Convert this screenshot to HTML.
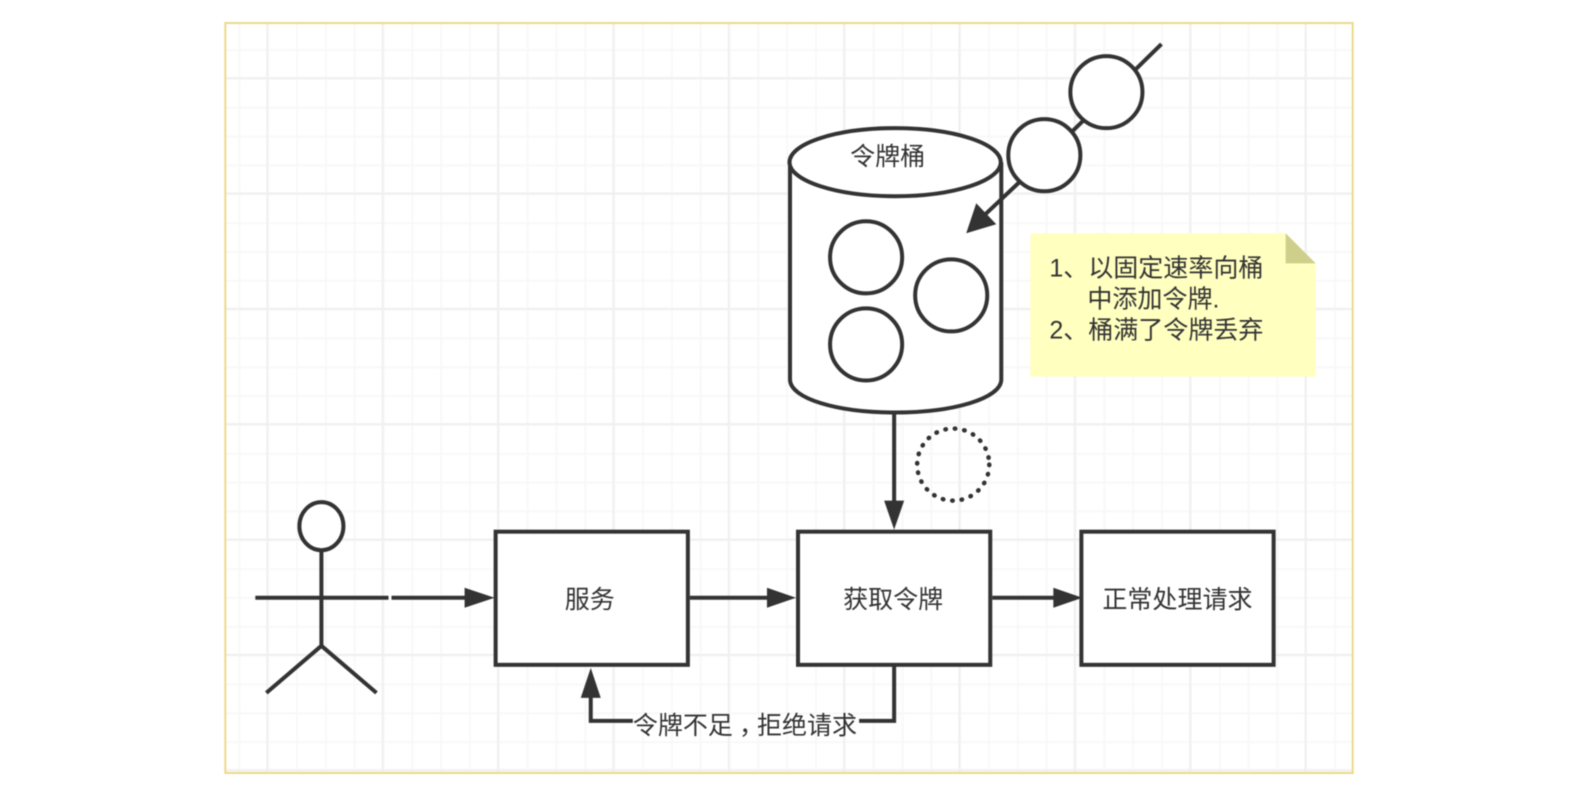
<!DOCTYPE html>
<html lang="zh">
<head>
<meta charset="utf-8">
<style>
html,body{margin:0;padding:0;background:#fff;width:1570px;height:790px;overflow:hidden}
svg{display:block;filter:blur(0.5px)}
text{font-family:"Liberation Sans","WenQuanYi Zen Hei","Noto Sans CJK SC",sans-serif;font-size:25px;fill:#333}
</style>
</head>
<body>
<svg width="1570" height="790" viewBox="0 0 1568 789" preserveAspectRatio="none" xmlns="http://www.w3.org/2000/svg">
<defs>
<pattern id="minor" patternUnits="userSpaceOnUse" x="238" y="49" width="28.8" height="28.8">
<path d="M1 0V28.8M0 1H28.8" stroke="#f8f8f8" stroke-width="2" fill="none"/>
</pattern>
<pattern id="major" patternUnits="userSpaceOnUse" x="266" y="77" width="115.2" height="115.2">
<path d="M1 0V115.2M0 1H115.2" stroke="#f0f0f0" stroke-width="2" fill="none"/>
</pattern>
</defs>
<rect x="225" y="23" width="1126" height="749" fill="#fff"/>
<rect x="226" y="24" width="1124" height="747" fill="url(#minor)"/>
<rect x="226" y="24" width="1124" height="747" fill="url(#major)"/>
<rect x="225" y="23" width="1126" height="749" fill="none" stroke="#ecd98a" stroke-width="2"/>

<g fill="none" stroke="#333" stroke-width="4">
<!-- person -->
<ellipse cx="321" cy="525.500" rx="22" ry="24" fill="#fff"/>
<path d="M321 550V645M255 597H388M266 692L321 645L376 692"/>
<!-- boxes -->
<rect x="495" y="531" width="192" height="133" fill="#fff"/>
<rect x="797" y="531" width="192" height="133" fill="#fff"/>
<rect x="1080" y="531" width="192" height="133" fill="#fff"/>
<!-- connectors -->
<path d="M391 597H466M689 597H768M991 597H1054M893 412V502"/>
<path d="M893 664V720H858M632 720H590V695"/>
<path d="M1160 44L1066 136"/>
<!-- bucket -->
<path d="M789 162V379C789 398 836 412 894 412C952 412 1000 398 1000 379V162" fill="#fff"/>
<ellipse cx="894" cy="162" rx="105.500" ry="34" fill="#fff"/>
<circle cx="865" cy="257" r="36" fill="#fff"/>
<circle cx="950" cy="295" r="36" fill="#fff"/>
<circle cx="865" cy="344" r="36" fill="#fff"/>
<circle cx="1105" cy="92" r="36" fill="#fff"/>
<circle cx="1043" cy="155" r="36" fill="#fff"/>
<path d="M1018 182L983 215"/>
<circle cx="952" cy="464" r="36" stroke-dasharray="0.5 9" stroke-linecap="round" stroke-width="4.500"/>
</g>

<g fill="#333">
<path d="M494 597L464 587V607Z"/>
<path d="M795 597L766 587V607Z"/>
<path d="M1081 597L1052 587V607Z"/>
<path d="M893 529L883 500H903Z"/>
<path d="M590 667L580 697H600Z"/>
<path d="M965 233L975 203L995 224Z"/>
</g>

<!-- note -->
<path d="M1029 233H1284L1314 263V376H1029Z" fill="#ffffc0"/>
<path d="M1284 233L1314 263H1284Z" fill="#cfcf8c"/>

<text x="849" y="165">令牌桶</text>
<text x="564" y="607">服务</text>
<text x="842" y="607">获取令牌</text>
<text x="1101" y="607">正常处理请求</text>
<text x="632" y="733">令牌不足</text>
<text x="738" y="733">，</text>
<text x="756" y="733">拒绝请求</text>
<text x="1048" y="276">1、以固定速率向桶</text>
<text x="1086" y="307">中添加令牌.</text>
<text x="1048" y="338">2、桶满了令牌丢弃</text>
</svg>
</body>
</html>
